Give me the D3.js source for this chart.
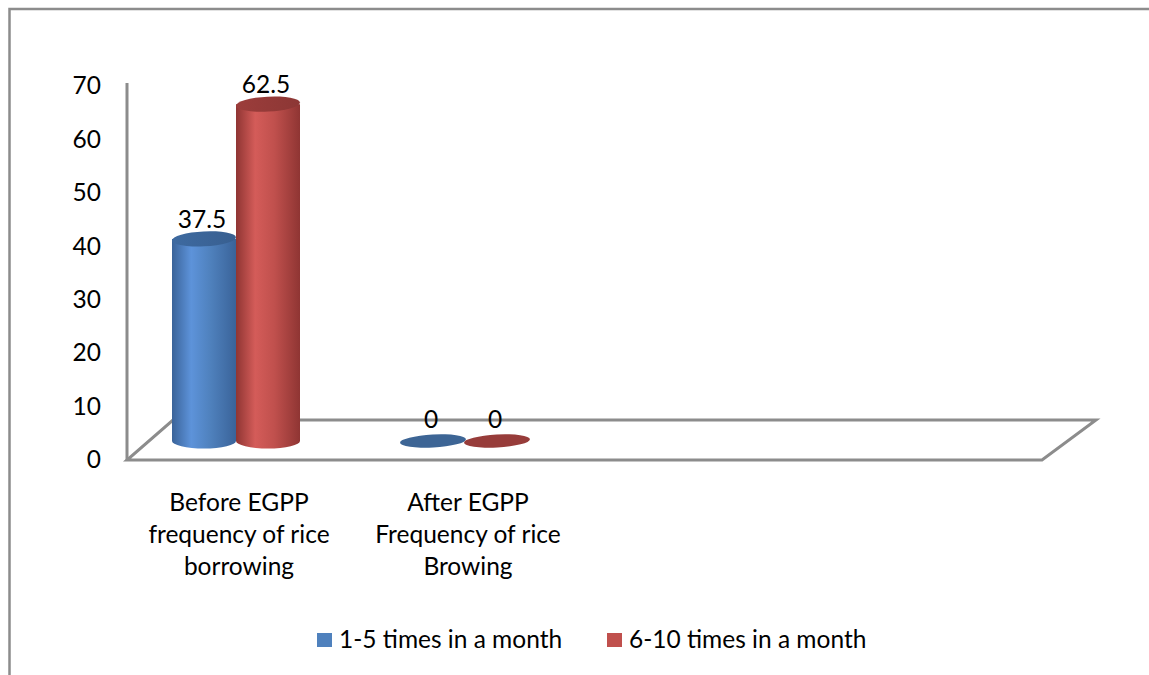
<!DOCTYPE html>
<html>
<head>
<meta charset="utf-8">
<script src="https://cdn.jsdelivr.net/npm/d3@7"></script>
<style>
  html, body { margin: 0; padding: 0; background: #fff; }
  svg { display: block; }
  text { font-family: Lato, "Open Sans", sans-serif; fill: #000; }
</style>
</head>
<body>
<svg id="chart" width="1149" height="675"></svg>
<script>
// ---- data ----
const categories = [
  ["Before EGPP", "frequency of rice", "borrowing"],
  ["After EGPP", "Frequency of rice", "Browing"]
];
const categoryKeys = ["before", "after"];
const seriesNames = ["1-5 times in a month", "6-10 times in a month"];
const series1 = [37.5, 0];   // 1-5 times in a month
const series2 = [62.5, 0];   // 6-10 times in a month
const tickValues = [0, 10, 20, 30, 40, 50, 60, 70];

// ---- styling ----
const colors = {
  blue: { base: "#4f81bd", light: "#5d93da", dark: "#3a6399", top: "#3e6aa0", flat: "#3d6595" },
  red:  { base: "#c0504d", light: "#d45c59", dark: "#8f3533", top: "#9c3d3b", flat: "#973c3a" }
};
const palette = [colors.blue, colors.red];
const gridGray = "#8c8c8c";
const FONT = 24.5;

const svg = d3.select("#chart");
const defs = svg.append("defs");

// gradients
palette.forEach((c, i) => {
  const g = defs.append("linearGradient").attr("id", "body" + i)
    .attr("x1", "0%").attr("x2", "100%").attr("y1", "0%").attr("y2", "0%");
  g.append("stop").attr("offset", "0%").attr("stop-color", c.dark);
  g.append("stop").attr("offset", "30%").attr("stop-color", c.light);
  g.append("stop").attr("offset", "60%").attr("stop-color", c.base);
  g.append("stop").attr("offset", "100%").attr("stop-color", c.dark);
  const t = defs.append("linearGradient").attr("id", "top" + i)
    .attr("x1", "0%").attr("x2", "100%").attr("y1", "0%").attr("y2", "0%");
  t.append("stop").attr("offset", "0%").attr("stop-color", c.top);
  t.append("stop").attr("offset", "100%").attr("stop-color", d3.color(c.top).darker(0.3));
});

// outer chart border (partially visible)
svg.append("path")
  .attr("d", "M9.5,675 V9 H1149")
  .attr("fill", "none").attr("stroke", gridGray).attr("stroke-width", 2.5);

// scales
const yAxisScale = d3.scaleLinear().domain([0, 70]).range([460, 86]);
const yBar = d3.scaleLinear().domain([0, 70]).range([441, 63.7]);
const x = d3.scaleBand().domain(categoryKeys).range([121.5, 579.5]).padding(0);
const xs = d3.scaleBand().domain(seriesNames).range([0, 128]).padding(0);

// floor (3D base)
const floorFront = 460, floorBack = 420;
svg.append("path")
  .attr("d", `M127,${floorFront} L1042,${floorFront} L1096,${floorBack} L173,${floorBack} Z`)
  .attr("fill", "none").attr("stroke", gridGray).attr("stroke-width", 3)
  .attr("stroke-linejoin", "miter");

// value axis
const axis = d3.axisLeft(yAxisScale).tickValues(tickValues).tickSize(0).tickPadding(26);
const ag = svg.append("g").attr("transform", "translate(127,0)").call(axis);
ag.select(".domain").attr("stroke", gridGray).attr("stroke-width", 3).attr("d", "M0,83V460");
ag.selectAll(".tick text").style("font-family", "Lato, sans-serif").style("font-size", FONT + "px").attr("fill", "#000");

// bars as cylinders
const data = [];
categoryKeys.forEach((k, ci) => {
  [series1, series2].forEach((s, si) => {
    data.push({ cat: k, ci, si, name: seriesNames[si], value: s[ci] });
  });
});

const ry = 7.5;
const barsG = svg.append("g");
data.forEach(d => {
  const x0 = x(d.cat) + x.bandwidth() / 2 - 64 + xs(d.name);
  const w = xs.bandwidth();
  const cx = x0 + w / 2;
  const rx = w / 2;
  const base = yBar(0);
  const top = yBar(d.value);
  const c = palette[d.si];
  const g = barsG.append("g");
  if (d.value > 0) {
    g.append("path")
      .attr("d", `M${x0},${top} L${x0},${base} A${rx},${ry} 0 0 0 ${x0 + w},${base} L${x0 + w},${top} Z`)
      .attr("fill", `url(#body${d.si})`);
    g.append("ellipse")
      .attr("cx", cx).attr("cy", top).attr("rx", rx).attr("ry", ry)
      .attr("transform", `rotate(-3 ${cx} ${top})`)
      .attr("fill", `url(#top${d.si})`);
  } else {
    g.append("ellipse")
      .attr("cx", cx).attr("cy", base).attr("rx", rx + 1).attr("ry", 6.5)
      .attr("transform", `rotate(-3 ${cx} ${base})`)
      .attr("fill", c.flat);
  }
  g.append("text")
    .attr("x", cx - 2).attr("y", top - (d.value > 0 ? 11 : 13))
    .attr("text-anchor", "middle")
    .style("font-size", FONT + "px")
    .text(d3.format("~g")(d.value));
});

// category labels
const catG = svg.append("g");
categoryKeys.forEach((k, i) => {
  const t = catG.append("text")
    .attr("text-anchor", "middle")
    .attr("x", x(k) + x.bandwidth() / 2 + 3)
    .attr("y", 511)
    .style("font-size", FONT + "px");
  categories[i].forEach((line, li) => {
    t.append("tspan").attr("x", x(k) + x.bandwidth() / 2 + 3).attr("dy", li === 0 ? 0 : 32).text(line);
  });
});

// legend
const legendX = [317, 607];
const lg = svg.append("g");
seriesNames.forEach((n, i) => {
  lg.append("rect").attr("x", legendX[i]).attr("y", 633).attr("width", 15).attr("height", 14)
    .attr("fill", palette[i].base);
  lg.append("text").attr("x", legendX[i] + 22).attr("y", 648)
    .style("font-size", FONT + "px").text(n);
});
</script>
</body>
</html>
